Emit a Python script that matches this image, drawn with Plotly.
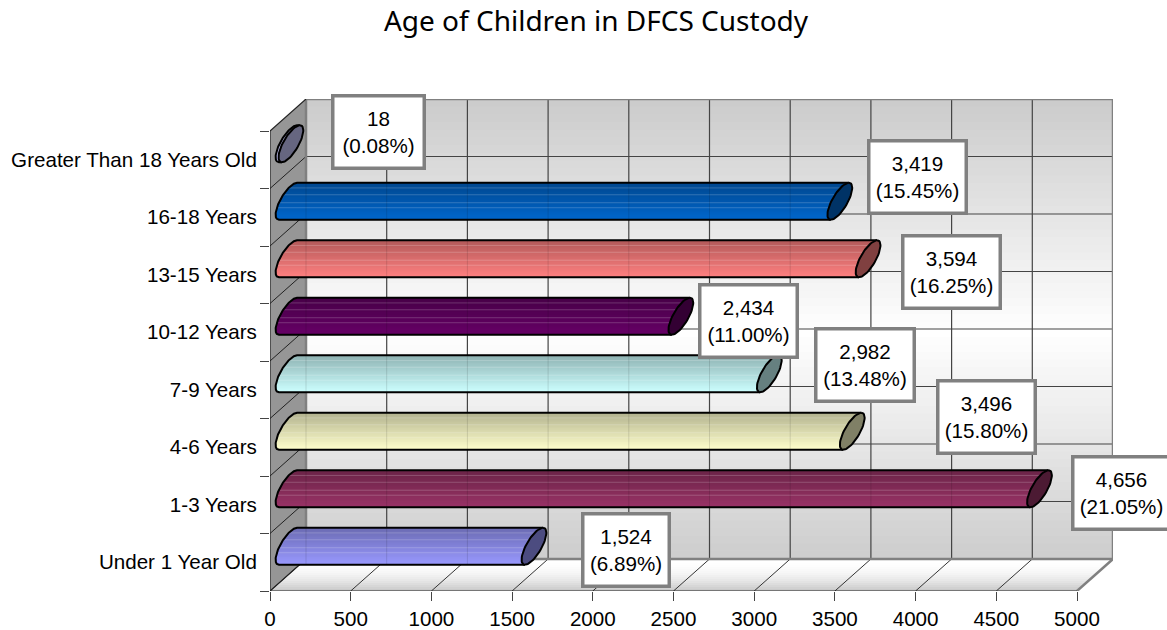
import math

import plotly.graph_objects as go

categories = ['Under 1 Year Old', '1-3 Years', '4-6 Years', '7-9 Years',
              '10-12 Years', '13-15 Years', '16-18 Years',
              'Greater Than 18 Years Old']
counts = [1524, 4656, 3496, 2982, 2434, 3594, 3419, 18]
percents = ['6.89', '21.05', '15.80', '13.48', '11.00', '16.25', '15.45', '0.08']
bar_colors = ['#9999ff', '#993366', '#ffffcc', '#ccffff',
              '#660066', '#ff8080', '#0066cc', '#ccccff']
x_ticks = [0, 500, 1000, 1500, 2000, 2500, 3000, 3500, 4000, 4500, 5000]

# label box centres, relative to the end of each bar (pixels)
label_dx = [110.5, 100.5, 152.7, 114.2, 85.2, 101, 95.2, 106]
label_dy = [-12, -12, -30, -25, -11, -3, -40, -28]
label_w = [81, 92, 92, 93, 92, 92, 92, 86]

# plot geometry in pixels
LEFT, RIGHT_FRONT, BOTTOM, TOP_FRONT = 270, 1077, 591, 131
DEPTH_X, DEPTH_Y = 36, 32
px_x = (RIGHT_FRONT - LEFT) / 5000
px_y = (BOTTOM - TOP_FRONT) / 8
DX = DEPTH_X / px_x
DY = DEPTH_Y / px_y
N = len(categories)
Y0, Y1 = -0.5, N - 0.5

fig = go.Figure()


def shade(color, f):
    r, g, b = (int(color[i:i + 2], 16) for i in (1, 3, 5))
    return f'rgb({r * f:.0f},{g * f:.0f},{b * f:.0f})'


def poly(xs, ys, fill, line=None, width=1):
    fig.add_trace(go.Scatter(
        x=xs, y=ys, mode='lines', fill='toself' if fill else None,
        fillcolor=fill, cliponaxis=False, hoverinfo='skip', showlegend=False,
        line=dict(color=line or 'rgba(0,0,0,0)', width=width if line else 0)
    ))


def lines(segments, color, width):
    xs, ys = [], []
    for (xa, ya), (xb, yb) in segments:
        xs += [xa, xb, None]
        ys += [ya, yb, None]
    fig.add_trace(go.Scatter(
        x=xs, y=ys, mode='lines', cliponaxis=False, hoverinfo='skip',
        showlegend=False, line=dict(color=color, width=width)
    ))


def wall_color(t):
    # t is 0 at top/bottom of the wall and 1 in the middle
    v = 204 + (255 - 204) * t
    return f'rgb({v:.0f},{v:.0f},{v:.0f})'


# back wall, painted from the top down
STEPS = 60
for i in range(STEPS):
    f = i / STEPS
    y_top = Y1 + DY - f * (Y1 - Y0)
    poly([DX, 5000 + DX, 5000 + DX, DX, DX],
         [y_top, y_top, Y0 + DY, Y0 + DY, y_top],
         wall_color(1 - abs(2 * f - 1)))

# floor, from the back edge to the front edge
for i in range(16):
    f = i / 16
    inset = DX * (1 - f)
    yy = Y0 + DY * (1 - f)
    v = 255 - 60 * f ** 2
    poly([inset, 5000 + inset, 5000, 0, inset],
         [yy, yy, Y0, Y0, yy], f'rgb({v:.0f},{v:.0f},{v:.0f})')

# left wall
poly([0, DX, DX, 0, 0], [Y1, Y1 + DY, Y0 + DY, Y0, Y1], '#969696')

# gridlines
lines([((v + DX, Y0 + DY), (v + DX, Y1 + DY)) for v in x_ticks[1:-1]], '#444444', 1.2)
lines([((DX, k - 0.5 + DY), (5000 + DX, k - 0.5 + DY)) for k in range(1, N)], '#444444', 1.2)
lines([((v, Y0), (v + DX, Y0 + DY)) for v in x_ticks[1:-1]], '#333333', 1)
lines([((0, k - 0.5), (DX, k - 0.5 + DY)) for k in range(N)], '#222222', 1)

# wall outlines
lines([((DX, Y1 + DY), (5000 + DX, Y1 + DY)),
       ((5000 + DX, Y1 + DY), (5000 + DX, Y0 + DY)),
       ((5000 + DX, Y0 + DY), (DX, Y0 + DY)),
       ((DX, Y0 + DY), (DX, Y1 + DY)),
       ((5000 + DX, Y0 + DY), (5000, Y0))], '#808080', 2.5)
lines([((0, Y1), (DX, Y1 + DY)), ((0, Y0), (0, Y1)), ((0, Y0), (5000, Y0)),
       ((0, Y0), (DX, Y0 + DY))], '#222222', 1.2)

# cylinder shape, in pixels around the centre of the end ellipse
HALF_H, SLANT, HALF_W = 18.5, 9, 8.5
HIGHLIGHTS = [0.72, 0.35, -0.08, -0.35]


def edge(u, side):
    return SLANT * u + side * HALF_W * math.sqrt(max(0, 1 - u * u))


def to_x(value, px):
    return value + DX / 2 + px / px_x


def to_y(k, px):
    return k + DY / 2 + px / px_y


for k, (value, color) in enumerate(zip(counts, bar_colors)):
    # body, painted from the top down, dark at the top and light at the bottom
    strips = 24
    for s in range(strips):
        u1 = 1 - 2 * s / strips
        us = [u1 + (-1 - u1) * j / 30 for j in range(31)]
        xs = [to_x(0, edge(u, -1)) for u in us] + [to_x(value, edge(-1, 1)), to_x(value, edge(u1, 1))]
        ys = [to_y(k, HALF_H * u) for u in us] + [to_y(k, -HALF_H), to_y(k, HALF_H * u1)]
        f = 0.7 + 0.3 * (s + 0.5) / strips
        poly(xs + xs[:1], ys + ys[:1], shade(color, f))

    # thin light bands and the grid showing faintly through the body
    if value > 100:
        lines([((to_x(0, edge(u, -1)), to_y(k, HALF_H * u)), (to_x(value, edge(u, 1)), to_y(k, HALF_H * u)))
               for u in HIGHLIGHTS], 'rgba(255,255,255,0.2)', 1)
        lines([((v + DX, to_y(k, -HALF_H)), (v + DX, to_y(k, HALF_H)))
               for v in x_ticks if v + DX < value], 'rgba(0,0,0,0.12)', 1)

    # outline of the body
    us = [1 - 2 * j / 40 for j in range(41)]
    outline_x = [to_x(value, edge(1, 1))] + [to_x(0, edge(u, -1)) for u in us] + [to_x(value, edge(-1, 1))]
    outline_y = [to_y(k, HALF_H)] + [to_y(k, HALF_H * u) for u in us] + [to_y(k, -HALF_H)]
    poly(outline_x, outline_y, None, '#000000', 2)

    # end cap
    ts = [2 * math.pi * j / 60 for j in range(61)]
    cap_x = [to_x(value, SLANT * math.cos(t) + HALF_W * math.sin(t)) for t in ts]
    cap_y = [to_y(k, HALF_H * math.cos(t)) for t in ts]
    poly(cap_x, cap_y, shade(color, 0.5), '#000000', 2)

for k, (value, pct) in enumerate(zip(counts, percents)):
    fig.add_annotation(
        x=value, y=k, xref='x', yref='y',
        xshift=label_dx[k], yshift=-label_dy[k],
        text=f'{value:,}<br>({pct}%)', showarrow=False,
        align='center', valign='middle', width=label_w[k], height=67,
        bgcolor='white', bordercolor='#808080', borderwidth=3.5,
        font=dict(family='Liberation Sans', size=20.6, color='#000000')
    )

fig.update_xaxes(
    range=[0, 5000 + DX], tickvals=x_ticks, ticks='outside', ticklen=9,
    tickcolor='#444444', tickwidth=1, showgrid=False, zeroline=False,
    automargin=False,
    tickfont=dict(family='Liberation Sans', size=20.6, color='#000000')
)
fig.update_yaxes(
    range=[Y0, Y1 + DY], tickvals=list(range(N)), ticktext=categories,
    ticks='outside', ticklen=8, tickcolor='rgba(0,0,0,0)',
    minor=dict(tickmode='array', tickvals=[k - 0.5 for k in range(N + 1)],
               ticks='outside', ticklen=9, tickcolor='#444444', showgrid=False),
    showgrid=False, zeroline=False, automargin=False,
    tickfont=dict(family='Liberation Sans', size=20.6, color='#000000')
)
fig.update_layout(
    width=1167, height=630, plot_bgcolor='white', paper_bgcolor='white',
    showlegend=False,
    margin=dict(l=LEFT, r=1167 - RIGHT_FRONT - DEPTH_X, t=BOTTOM - 460 - DEPTH_Y, b=630 - BOTTOM),
    title=dict(text='Age of Children in DFCS Custody', x=596 / 1167, xanchor='center',
               y=1 - 21 / 630, yanchor='middle',
               font=dict(family='Noto Sans', size=28, color='#000000'))
)

fig.write_html('out.html', config={'displayModeBar': False},
               post_script="document.body.style.margin = '0';")
